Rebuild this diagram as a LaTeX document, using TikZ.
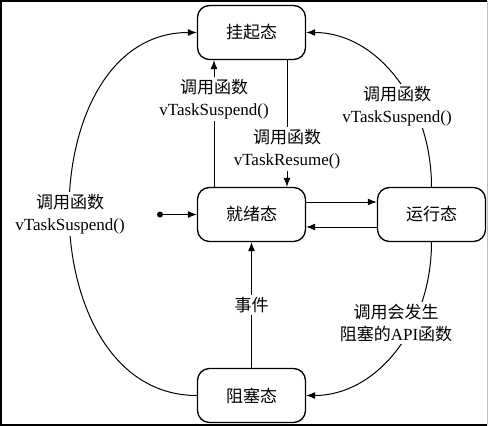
\documentclass[tikz,border=0pt]{standalone}
\usepackage{fontspec}
\setmainfont{Liberation Serif}
\newfontfamily\cjk{Noto Sans CJK SC}
\usetikzlibrary{arrows.meta}
\tikzset{
	state/.style={draw,rounded corners=12pt,line width=1.3pt,minimum width=108pt,minimum height=54pt,font=\cjk\fontsize{17}{21}\selectfont},
	note/.style={fill=white,align=center,inner sep=2pt,font=\fontsize{17}{22}\selectfont},
	trans/.style={line width=1pt,-{Latex[length=9pt,width=7pt]}}
}

\begin{document}
\begin{tikzpicture}[x=1pt,y=-1pt]
	\useasboundingbox (0,0) rectangle (488,426);
	\draw[line width=2pt] (487,1) -- (1,1) -- (1,424.5) -- (487,424.5);
	\draw[black!25,line width=0.6pt] (487,1) -- (487,424.5);
	\node[state] (suspend) at (251.5,32.5) {挂起态};
	\node[state] (ready) at (251.5,214.5) {就绪态};
	\node[state] (running) at (431.5,214.5) {运行态};
	\node[state] (blocked) at (251.5,395.5) {阻塞态};
	\node[circle,fill,inner sep=0pt,minimum size=6pt] (init) at (160,214.5) {};
	\draw[trans] (init) -- (ready);
	\draw[trans] ([xshift=-37.5pt]ready.north) -- ([xshift=-37.5pt]suspend.south)
		node[note,pos=0.69] (lsus) {{\cjk 调用函数}\\vTaskSuspend()};
	\draw[trans] ([xshift=35.5pt]suspend.south) -- ([xshift=35.5pt]ready.north)
		node[note,pos=0.7] (lres) {{\cjk 调用函数}\\vTaskResume()};
	\draw[trans] ([yshift=12.5pt]ready.east) -- ([yshift=12.5pt]running.west);
	\draw[trans] ([yshift=-12.5pt]running.west) -- ([yshift=-12.5pt]ready.east);
	\draw[trans] (blocked) -- (ready) node[note,midway] (levt) {\cjk 事件};
	\draw[trans] (blocked.west) .. controls +(-169,0) and +(-169,0) .. (suspend.west)
		node[note,midway] (lleft) {{\cjk 调用函数}\\vTaskSuspend()};
	\draw[trans] (running.north) .. controls +(0,-86) and +(70,0) .. (suspend.east);
	\node[note] (lright) at (397,106) {{\cjk 调用函数}\\vTaskSuspend()};
	\draw[trans] (running.south) .. controls +(0,86) and +(70,0) .. (blocked.east);
	\node[note] (lblock) at (396,323) {{\cjk 调用会发生}\\{\cjk 阻塞的}API{\cjk 函数}};
\end{tikzpicture}
\end{document}
